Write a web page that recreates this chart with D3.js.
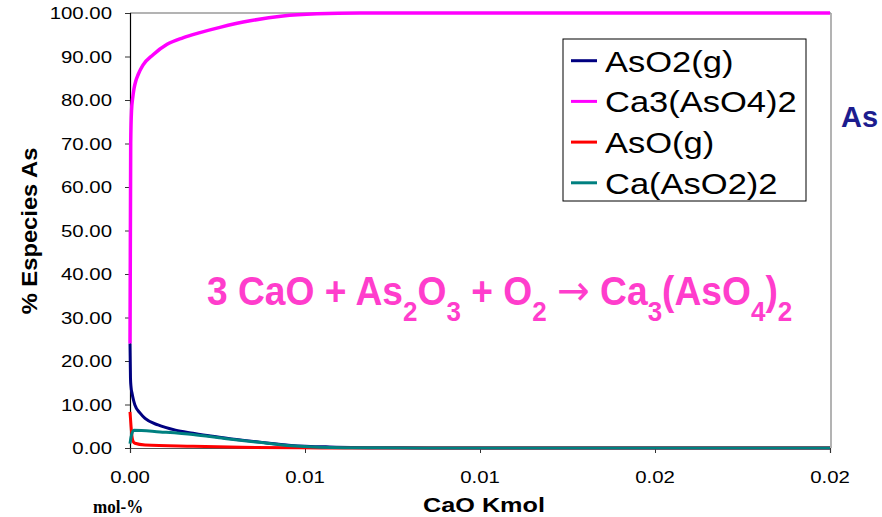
<!DOCTYPE html>
<html>
<head>
<meta charset="utf-8">
<script src="https://cdn.jsdelivr.net/npm/d3@7"></script>
<style>
html,body{margin:0;padding:0;background:#fff;}
svg{display:block;}
</style>
</head>
<body>
<svg id="chart" width="882" height="517"></svg>
<script>
// ---- data ----
const seriesNames = ["AsO2(g)", "Ca3(AsO4)2", "AsO(g)", "Ca(AsO2)2"];
const seriesColors = ["#000080", "#ff00ff", "#ff0000", "#008080"];

const aso2X = [0, 0.000014, 0.00003, 0.00006, 0.0001, 0.00014, 0.00029, 0.00043, 0.0008, 0.0013, 0.0018, 0.0023, 0.0029, 0.0037, 0.0046, 0.0057, 0.0077, 0.01, 0.02];
const aso2Y = [24, 16, 14, 12.5, 11, 9.9, 8, 6.8, 5.3, 4.1, 3.4, 2.75, 2.1, 1.35, 0.6, 0.25, 0.05, 0, 0];

const ca3X = [0, 0.00002, 0.000043, 0.000077, 0.000114, 0.00017, 0.00023, 0.00037, 0.00066, 0.00106, 0.00151, 0.002, 0.00257, 0.00343, 0.00437, 0.00534, 0.00657, 0.01, 0.02];
const ca3Y = [24, 70, 77.5, 80.5, 82.6, 84.5, 85.8, 88.0, 90.4, 92.8, 94.3, 95.5, 96.7, 98.2, 99.3, 99.8, 100, 100, 100];

const asoX = [0, 0.00003, 0.00006, 0.00009, 0.00014, 0.00043, 0.0018, 0.0032, 0.0049, 0.0063, 0.02];
const asoY = [8.3, 5, 2.5, 1.5, 1.1, 0.7, 0.4, 0.15, 0.05, 0, 0];

const caaso2X = [0, 0.00003, 0.00011, 0.00086, 0.0018, 0.0027, 0.0037, 0.0046, 0.0054, 0.0071, 0.01, 0.02];
const caaso2Y = [1.0, 2.5, 4.1, 3.7, 3.1, 2.2, 1.3, 0.5, 0.2, 0.05, 0, 0];

const xTicks = [0, 0.005, 0.01, 0.015, 0.02];
const xTickLabels = ["0.00", "0.01", "0.01", "0.02", "0.02"];
const yTicks = [0, 10, 20, 30, 40, 50, 60, 70, 80, 90, 100];
const yTickLabels = ["0.00", "10.00", "20.00", "30.00", "40.00", "50.00", "60.00", "70.00", "80.00", "90.00", "100.00"];

// ---- layout ----
const L = 130, R = 830, T = 13, B = 448;
const SANS = "'Liberation Sans', Arial, sans-serif";
const SERIF = "'Liberation Serif', 'Times New Roman', serif";
const svg = d3.select("#chart");
const x = d3.scaleLinear().domain([0, 0.02]).range([L, R]);
const y = d3.scaleLinear().domain([0, 100]).range([B, T]);

function stext(parent, px, py, txt, size, sx, opts) {
  opts = opts || {};
  const t = parent.append("text")
    .attr("transform", `translate(${px},${py}) ${opts.rot ? "rotate(" + opts.rot + ")" : ""} scale(${sx},1)`)
    .style("font-family", opts.family || SANS)
    .style("font-size", size + "px")
    .style("font-weight", opts.bold ? "bold" : "normal")
    .attr("text-anchor", opts.anchor || "start")
    .attr("fill", opts.fill || "#000")
    .text(txt);
  return t;
}

// plot frame (top and right gray)
svg.append("line").attr("x1", L).attr("x2", R + 1).attr("y1", T).attr("y2", T).attr("stroke", "#9a9a9a").attr("stroke-width", 1.5);
svg.append("line").attr("x1", R + 1).attr("x2", R + 1).attr("y1", T).attr("y2", B).attr("stroke", "#9a9a9a").attr("stroke-width", 1.5);

// axes
const yAxis = d3.axisLeft(y).tickValues(yTicks).tickSize(5).tickFormat("");
const gy = svg.append("g").attr("transform", `translate(${L},0)`).call(yAxis);
gy.select(".domain").attr("stroke", "#000").attr("stroke-width", 1.2);
gy.selectAll(".tick line").attr("stroke", "#333");

const xAxis = d3.axisBottom(x).tickValues(xTicks).tickSize(5).tickFormat("");
const gx = svg.append("g").attr("transform", `translate(0,${B})`).call(xAxis);
gx.select(".domain").attr("stroke", "#555").attr("stroke-width", 1.2);
gx.selectAll(".tick line").attr("stroke", "#333");

// tick labels
yTicks.forEach((v, i) => stext(svg, 112, y(v) + 6, yTickLabels[i], 17, 1.2, {anchor: "end"}));
xTicks.forEach((v, i) => stext(svg, x(v), 483, xTickLabels[i], 17, 1.2, {anchor: "middle"}));

// axis titles
stext(svg, 484, 512, "CaO Kmol", 21, 1.2, {anchor: "middle", bold: true});
stext(svg, 37, 231, "% Especies As", 22, 1.08, {anchor: "middle", bold: true, rot: -90});
stext(svg, 93, 513, "mol-%", 18, 0.95, {bold: true, family: SERIF});

// series
const seriesData = [
  aso2X.map((v, i) => [v, aso2Y[i]]),
  ca3X.map((v, i) => [v, ca3Y[i]]),
  asoX.map((v, i) => [v, asoY[i]]),
  caaso2X.map((v, i) => [v, caaso2Y[i]])
];
const line = d3.line().x(d => x(d[0])).y(d => y(d[1])).curve(d3.curveMonotoneX);
seriesData.forEach((d, i) => {
  svg.append("path").datum(d).attr("d", line)
    .attr("fill", "none").attr("stroke", seriesColors[i])
    .attr("stroke-width", i === 1 ? 3.5 : 3)
    .attr("stroke-linejoin", "round");
});

// legend
const lg = svg.append("g");
lg.append("rect").attr("x", 563).attr("y", 39).attr("width", 243).attr("height", 162)
  .attr("fill", "#fff").attr("stroke", "#000").attr("stroke-width", 1);
seriesNames.forEach((n, i) => {
  const cy = 60.7 + i * 40.7;
  lg.append("line").attr("x1", 571).attr("x2", 597).attr("y1", cy).attr("y2", cy)
    .attr("stroke", seriesColors[i]).attr("stroke-width", 3);
  stext(lg, 605, cy + 11, n, 29, 1.19);
});

// right label
stext(svg, 841, 127, "As", 29, 1.0, {bold: true, fill: "#1c1c8e"});

// equation
const eq = svg.append("text")
  .attr("transform", "translate(207,305) scale(0.93,1)")
  .style("font-family", SANS)
  .style("font-size", "40px").style("font-weight", "bold").attr("fill", "#ff3dcc");
const parts = [
  ["3 CaO + As", 0], ["2", 1], ["O", 0], ["3", 1], [" + O", 0], ["2", 1],
  [" ", 0], ["\u2192", 2], [" Ca", 0], ["3", 1], ["(AsO", 0], ["4", 1], [")", 0], ["2", 1]
];
let sub = false;
parts.forEach(([t, s]) => {
  const ts = eq.append("tspan").text(t);
  if (s === 1) { ts.style("font-size", "28px"); if (!sub) ts.attr("dy", 16); sub = true; }
  else {
    if (sub) ts.attr("dy", -16); sub = false;
    if (s === 2) ts.style("font-family", "'DejaVu Sans', sans-serif").style("font-weight", "normal").style("font-size", "42px");
  }
});
</script>
</body>
</html>
